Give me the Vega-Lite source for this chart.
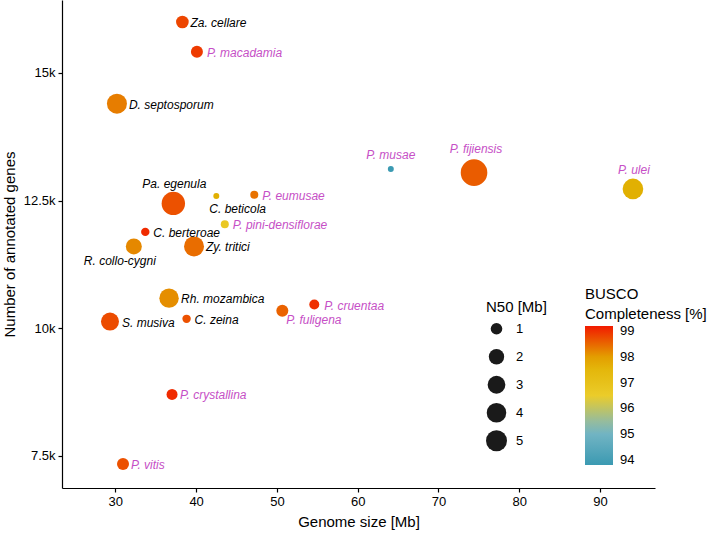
{
  "$schema": "https://vega.github.io/schema/vega-lite/v6.json",
  "width": 593,
  "height": 488,
  "autosize": {"type": "none"},
  "padding": {"left": 62, "top": 0, "right": 53, "bottom": 45},
  "background": "white",
  "config": {
    "view": {"stroke": null},
    "font": "Liberation Sans",
    "axis": {
      "grid": false,
      "domainColor": "black",
      "domainWidth": 1.2,
      "tickColor": "black",
      "tickWidth": 1.2,
      "tickSize": 4,
      "labelColor": "black",
      "labelFont": "Liberation Sans",
      "labelFontSize": 13,
      "labelPadding": 3,
      "titleFont": "Liberation Sans",
      "titleFontSize": 15,
      "titleFontWeight": "normal",
      "titleColor": "black"
    },
    "legend": {
      "titleFont": "Liberation Sans",
      "titleFontSize": 15,
      "titleFontWeight": "normal",
      "titleColor": "black",
      "labelFont": "Liberation Sans",
      "labelFontSize": 13,
      "labelColor": "black"
    }
  },
  "data": {
    "values": [
      {"species": "Za. cellare", "pseudocercospora": false, "genome_mb": 38.3, "genes": 15998, "n50_mb": 1.21, "busco": 98.8},
      {"species": "P. macadamia", "pseudocercospora": true, "genome_mb": 40.1, "genes": 15417, "n50_mb": 1.08, "busco": 98.9},
      {"species": "D. septosporum", "pseudocercospora": false, "genome_mb": 30.2, "genes": 14399, "n50_mb": 4.3, "busco": 98.3},
      {"species": "P. musae", "pseudocercospora": true, "genome_mb": 64.1, "genes": 13121, "n50_mb": 0.36, "busco": 93.8},
      {"species": "P. fijiensis", "pseudocercospora": true, "genome_mb": 74.4, "genes": 13048, "n50_mb": 10.99, "busco": 98.6},
      {"species": "P. ulei", "pseudocercospora": true, "genome_mb": 94.07, "genes": 12729, "n50_mb": 4.71, "busco": 97.8},
      {"species": "Pa. egenula", "pseudocercospora": false, "genome_mb": 37.18, "genes": 12445, "n50_mb": 7.12, "busco": 98.7},
      {"species": "C. beticola", "pseudocercospora": false, "genome_mb": 42.5, "genes": 12592, "n50_mb": 0.36, "busco": 97.8},
      {"species": "P. eumusae", "pseudocercospora": true, "genome_mb": 47.2, "genes": 12617, "n50_mb": 0.51, "busco": 98.4},
      {"species": "P. pini-densiflorae", "pseudocercospora": true, "genome_mb": 43.55, "genes": 12038, "n50_mb": 0.51, "busco": 96.7},
      {"species": "C. berteroae", "pseudocercospora": false, "genome_mb": 33.71, "genes": 11887, "n50_mb": 0.55, "busco": 99.05},
      {"species": "R. collo-cygni", "pseudocercospora": false, "genome_mb": 32.29, "genes": 11603, "n50_mb": 2.22, "busco": 98.2},
      {"species": "Zy. tritici", "pseudocercospora": false, "genome_mb": 39.74, "genes": 11603, "n50_mb": 4.3, "busco": 98.45},
      {"species": "Rh. mozambica", "pseudocercospora": false, "genome_mb": 36.65, "genes": 10589, "n50_mb": 3.91, "busco": 98.15},
      {"species": "S. musiva", "pseudocercospora": false, "genome_mb": 29.34, "genes": 10131, "n50_mb": 3.11, "busco": 98.75},
      {"species": "C. zeina", "pseudocercospora": false, "genome_mb": 38.82, "genes": 10184, "n50_mb": 0.55, "busco": 98.7},
      {"species": "P. fuligena", "pseudocercospora": true, "genome_mb": 50.67, "genes": 10341, "n50_mb": 1.08, "busco": 98.55},
      {"species": "P. cruentaa", "pseudocercospora": true, "genome_mb": 54.63, "genes": 10464, "n50_mb": 0.74, "busco": 99.0},
      {"species": "P. crystallina", "pseudocercospora": true, "genome_mb": 37.02, "genes": 8702, "n50_mb": 0.89, "busco": 99.05},
      {"species": "P. vitis", "pseudocercospora": true, "genome_mb": 30.95, "genes": 7339, "n50_mb": 1.08, "busco": 98.7}
    ]
  },
  "encoding": {
    "x": {
      "field": "genome_mb",
      "type": "quantitative",
      "scale": {"domain": [23.4, 96.8], "nice": false, "zero": false},
      "axis": {"title": "Genome size [Mb]", "values": [30, 40, 50, 60, 70, 80, 90], "titlePadding": 6}
    },
    "y": {
      "field": "genes",
      "type": "quantitative",
      "scale": {"domain": [6870, 16430], "nice": false, "zero": false},
      "axis": {
        "title": "Number of annotated genes",
        "values": [7500, 10000, 12500, 15000],
        "labelExpr": "datum.value / 1000 + 'k'",
        "titlePadding": 6
      }
    }
  },
  "layer": [
    {
      "mark": {"type": "circle", "opacity": 1},
      "encoding": {
        "size": {
          "field": "n50_mb",
          "type": "quantitative",
          "scale": {"type": "sqrt", "domain": [1, 5], "range": [134.6, 440.5], "zero": false},
          "legend": {
            "title": "N50 [Mb]",
            "values": [1, 2, 3, 4, 5],
            "orient": "none",
            "legendX": 424,
            "legendY": 300,
            "symbolFillColor": "#1a1a1a",
            "symbolStrokeWidth": 0,
            "symbolOpacity": 1,
            "clipHeight": 25.5,
            "rowPadding": 2,
            "labelOffset": 9,
            "titlePadding": 1
          }
        },
        "color": {
          "field": "busco",
          "type": "quantitative",
          "scale": {
            "domain": [93.8, 95.15, 96.5, 97.85, 99.2],
            "range": ["#3B9AB2", "#78B7C5", "#EBCC2A", "#E1AF00", "#F21A00"],
            "interpolate": "rgb"
          },
          "legend": {
            "title": ["BUSCO", "Completeness [%]"],
            "orient": "none",
            "legendX": 523,
            "legendY": 287,
            "direction": "vertical",
            "values": [94, 95, 96, 97, 98, 99],
            "gradientLength": 139,
            "gradientThickness": 28,
            "gradientStrokeWidth": 0,
            "labelOffset": 7,
            "titleLineHeight": 20,
            "titlePadding": 4
          }
        }
      }
    },
    {
      "transform": [{"filter": {"field": "species", "oneOf": ["Za. cellare", "P. eumusae", "P. pini-densiflorae", "C. berteroae", "C. zeina", "P. vitis", "P. crystallina"]}}],
      "mark": {"type": "text", "align": "left", "baseline": "middle", "dx": 8, "dy": 1, "fontSize": 12, "fontStyle": "italic"},
      "encoding": {
        "text": {"field": "species"},
        "color": {"condition": {"test": "datum.pseudocercospora", "value": "#c64fc6"}, "value": "black"}
      }
    },
    {
      "transform": [{"filter": {"field": "species", "oneOf": ["P. macadamia", "P. cruentaa"]}}],
      "mark": {"type": "text", "align": "left", "baseline": "middle", "dx": 10, "dy": 1, "fontSize": 12, "fontStyle": "italic"},
      "encoding": {
        "text": {"field": "species"},
        "color": {"condition": {"test": "datum.pseudocercospora", "value": "#c64fc6"}, "value": "black"}
      }
    },
    {
      "transform": [{"filter": {"field": "species", "oneOf": ["D. septosporum", "Zy. tritici", "Rh. mozambica", "S. musiva"]}}],
      "mark": {"type": "text", "align": "left", "baseline": "middle", "dx": 12, "dy": 1, "fontSize": 12, "fontStyle": "italic"},
      "encoding": {
        "text": {"field": "species"},
        "color": {"condition": {"test": "datum.pseudocercospora", "value": "#c64fc6"}, "value": "black"}
      }
    },
    {
      "transform": [{"filter": {"field": "species", "oneOf": ["P. musae"]}}],
      "mark": {"type": "text", "align": "center", "baseline": "middle", "dx": 0, "dy": -14, "fontSize": 12, "fontStyle": "italic"},
      "encoding": {
        "text": {"field": "species"},
        "color": {"condition": {"test": "datum.pseudocercospora", "value": "#c64fc6"}, "value": "black"}
      }
    },
    {
      "transform": [{"filter": {"field": "species", "oneOf": ["P. ulei", "Pa. egenula"]}}],
      "mark": {"type": "text", "align": "center", "baseline": "middle", "dx": 1, "dy": -19, "fontSize": 12, "fontStyle": "italic"},
      "encoding": {
        "text": {"field": "species"},
        "color": {"condition": {"test": "datum.pseudocercospora", "value": "#c64fc6"}, "value": "black"}
      }
    },
    {
      "transform": [{"filter": {"field": "species", "oneOf": ["P. fijiensis"]}}],
      "mark": {"type": "text", "align": "center", "baseline": "middle", "dx": 2, "dy": -24, "fontSize": 12, "fontStyle": "italic"},
      "encoding": {
        "text": {"field": "species"},
        "color": {"condition": {"test": "datum.pseudocercospora", "value": "#c64fc6"}, "value": "black"}
      }
    },
    {
      "transform": [{"filter": {"field": "species", "oneOf": ["P. fuligena"]}}],
      "mark": {"type": "text", "align": "left", "baseline": "middle", "dx": 4, "dy": 9, "fontSize": 12, "fontStyle": "italic"},
      "encoding": {
        "text": {"field": "species"},
        "color": {"condition": {"test": "datum.pseudocercospora", "value": "#c64fc6"}, "value": "black"}
      }
    },
    {
      "transform": [{"filter": {"field": "species", "oneOf": ["C. beticola"]}}],
      "mark": {"type": "text", "align": "left", "baseline": "middle", "dx": -7, "dy": 13, "fontSize": 12, "fontStyle": "italic"},
      "encoding": {
        "text": {"field": "species"},
        "color": {"condition": {"test": "datum.pseudocercospora", "value": "#c64fc6"}, "value": "black"}
      }
    },
    {
      "transform": [{"filter": {"field": "species", "oneOf": ["R. collo-cygni"]}}],
      "mark": {"type": "text", "align": "center", "baseline": "middle", "dx": -14, "dy": 15, "fontSize": 12, "fontStyle": "italic"},
      "encoding": {
        "text": {"field": "species"},
        "color": {"condition": {"test": "datum.pseudocercospora", "value": "#c64fc6"}, "value": "black"}
      }
    }
  ]
}
